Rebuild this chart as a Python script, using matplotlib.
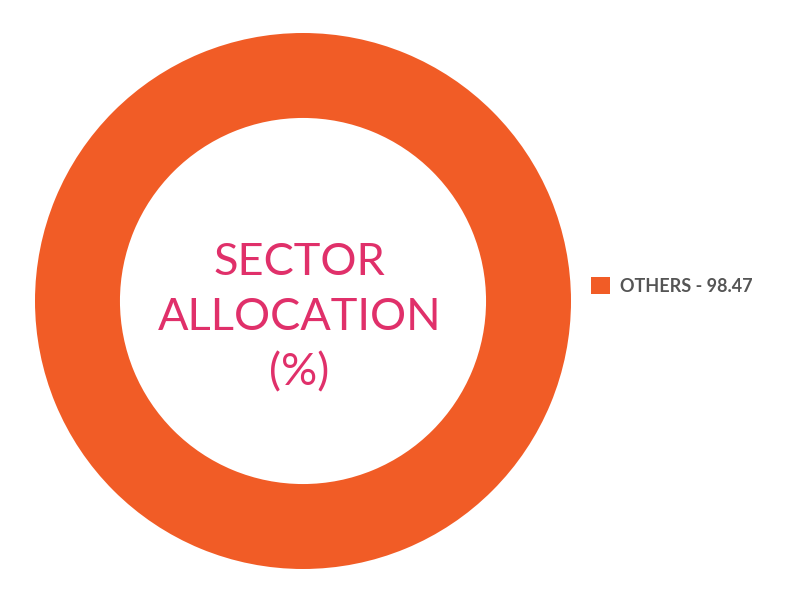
import matplotlib
matplotlib.use('Agg')
import matplotlib.pyplot as plt

sectors = ['OTHERS']
values = [98.47]
colors = ['#F15C26']

W, H = 789, 612
fig = plt.figure(figsize=(W / 100, H / 100), dpi=100)

# donut axes: centre (303, 301), outer radius 268 px
cx, cy, r = 303, 301, 268
ax = fig.add_axes([(cx - r) / W, (H - cy - r) / H, 2 * r / W, 2 * r / H])
wedges, _ = ax.pie(values, colors=colors, radius=1, startangle=90,
                   counterclock=False,
                   wedgeprops=dict(width=0.317, edgecolor='none'))
ax.set_xlim(-1, 1)
ax.set_ylim(-1, 1)
ax.set_aspect('equal')
ax.axis('off')

ax.text(-0.013, -0.062, 'SECTOR\nALLOCATION\n(%)', ha='center', va='center',
        fontsize=32.5, color='#E0306A', family=['Lato', 'DejaVu Sans'],
        linespacing=1.43)

labels = [f'{s} - {v:.2f}' for s, v in zip(sectors, values)]
leg = fig.legend(wedges, labels, loc='center left',
                 bbox_to_anchor=(575 / W, 1 - 286 / H), frameon=False,
                 handlelength=1.05, handleheight=1.05, handletextpad=0.55,
                 prop=dict(family=['Lato', 'DejaVu Sans'], weight='bold', size=13))
for t in leg.get_texts():
    t.set_color('#555555')

fig.savefig('out.png', dpi=100)
